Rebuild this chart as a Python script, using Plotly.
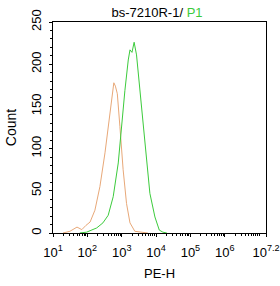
import plotly.graph_objects as go

# Orange (control) histogram: PE-H values and counts
orange_x = [19.5, 31, 50, 60, 69, 91, 120, 166, 232, 326, 404, 510, 555, 590, 655, 745, 887, 1100, 1380, 1740, 2410, 3370, 5770]
orange_y = [0, 2, 7, 5, 4, 9, 13, 27, 55, 95, 126, 161, 172, 178, 174, 165, 126, 75, 35, 12, 2, 1, 0]

# Green (P1) histogram
green_x = [60, 95, 187, 284, 404, 565, 793, 990, 1240, 1550, 1740, 1990, 2300, 2700, 3370, 4230, 5300, 6610, 9260, 12400, 15800, 20600]
green_y = [0, 1, 6, 12, 21, 43, 83, 130, 169, 205, 217, 214, 226, 211, 169, 126, 83, 47, 19, 3.5, 1, 0]

x_tickvals = [10, 100, 1000, 1e4, 1e5, 1e6, 10 ** 7.2]
x_ticktext = ["10<sup>1</sup>", "10<sup>2</sup>", "10<sup>3</sup>", "10<sup>4</sup>",
              "10<sup>5</sup>", "10<sup>6</sup>", "10<sup>7.2</sup>"]
y_tickvals = [0, 50, 100, 150, 200, 250]

orange = "#E8A878"
green = "#3CCB3C"
font = "Liberation Sans, Arial, sans-serif"

fig = go.Figure()
fig.add_trace(go.Scatter(x=orange_x, y=orange_y, mode="lines",
                         line=dict(color=orange, width=1), showlegend=False))
fig.add_trace(go.Scatter(x=green_x, y=green_y, mode="lines",
                         line=dict(color=green, width=1), showlegend=False))

fig.update_layout(
    width=280, height=286,
    margin=dict(l=53, r=14, t=22, b=53, autoexpand=False),
    paper_bgcolor="white", plot_bgcolor="white",
    font=dict(family=font, size=12, color="black"),
    title=dict(text="bs-7210R-1/ <span style='color:" + green + "'>P1</span>",
               x=157 / 280, xanchor="center", y=1 - 12 / 286, yanchor="middle",
               font=dict(size=13, family=font)),
)
fig.update_xaxes(
    type="log", range=[1, 7.2],
    tickvals=x_tickvals, ticktext=x_ticktext,
    ticks="outside", ticklen=3, tickcolor="black",
    showline=True, linecolor="black", linewidth=1, mirror=True,
    showgrid=False, zeroline=False,
    tickfont=dict(size=13, family=font),
    ticklabelstandoff=4,
    minor=dict(ticks="outside", ticklen=2, tickcolor="black", dtick="D1", showgrid=False),
    title=dict(text="PE-H", font=dict(size=13, family=font), standoff=10),
    automargin=False,
)
fig.update_yaxes(
    range=[0, 250],
    tickvals=y_tickvals, tickangle=-90,
    ticks="outside", ticklen=3, tickcolor="black",
    showline=True, linecolor="black", linewidth=1, mirror=True,
    showgrid=False, zeroline=False,
    tickfont=dict(size=13, family=font),
    ticklabelstandoff=3,
    minor=dict(ticks="outside", ticklen=2, tickcolor="black", dtick=10, showgrid=False),
    title=dict(text="Count", font=dict(size=14, family=font), standoff=8),
    automargin=False,
)

fig.write_html("out.html")
